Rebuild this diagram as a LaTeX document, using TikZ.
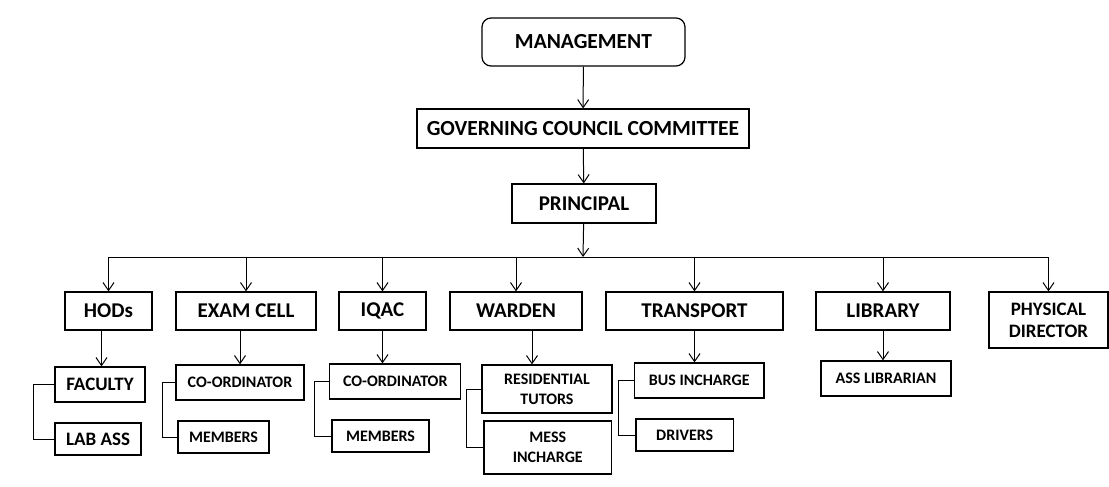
\documentclass[tikz,border=0pt]{standalone}
\usepackage{fontspec}
\setmainfont{Carlito}
\usetikzlibrary{arrows.meta, positioning, calc}

\tikzset{
  unit/.style={draw=black, line width=1.2pt, inner sep=2pt, align=center, font=\bfseries\fontsize{21}{23}\selectfont},
  subunit/.style={unit, font=\bfseries\fontsize{16}{20}\selectfont},
  arr/.style={line width=1pt, -{Straight Barb[length=8pt, width=11pt, line width=1pt]}},
  link/.style={line width=1pt}
}

\begin{document}
\begin{tikzpicture}[x=1pt, y=-1pt]
  \useasboundingbox (0,0) rectangle (1109,487);

  % top of the chart
  \node[unit, rounded corners=9pt, minimum width=203, minimum height=48, font=\bfseries\fontsize{21.5}{23}\selectfont] (mgmt) at (583.5,42) {MANAGEMENT};
  \node[unit, minimum width=332, minimum height=39, font=\bfseries\fontsize{21.5}{23}\selectfont] (gcc) at (583,128.5) {GOVERNING COUNCIL COMMITTEE};
  \node[unit, minimum width=144, minimum height=39] (prin) at (584,203.5) {PRINCIPAL};

  % departments
  \node[unit, minimum width=87, minimum height=38] (hods) at (108.5,311) {HODs};
  \node[unit, minimum width=140, minimum height=38] (exam) at (246,311) {EXAM CELL};
  \node[unit, minimum width=87, minimum height=38] (iqac) at (382.5,311) {IQAC};
  \node[unit, minimum width=132, minimum height=38] (warden) at (516,311) {WARDEN};
  \node[unit, minimum width=177, minimum height=38] (transport) at (694.5,311) {TRANSPORT};
  \node[unit, minimum width=134, minimum height=38] (library) at (883,311) {LIBRARY};
  \node[unit, minimum width=119, minimum height=56, font=\bfseries\fontsize{19}{22}\selectfont] (phys) at (1048.5,320) {PHYSICAL\\DIRECTOR};

  % staff under each department
  \node[unit, minimum width=90, minimum height=35, font=\bfseries\fontsize{19}{22}\selectfont] (faculty) at (100,384.5) {FACULTY};
  \node[unit, minimum width=86, minimum height=32, font=\bfseries\fontsize{19}{22}\selectfont] (labass) at (98,439) {LAB ASS};
  \node[subunit, minimum width=128, minimum height=35] (examcoord) at (240,382.5) {CO-ORDINATOR};
  \node[subunit, minimum width=91, minimum height=32] (exammem) at (223.5,437) {MEMBERS};
  \node[subunit, minimum width=131, minimum height=35] (iqaccoord) at (395.3,381.5) {CO-ORDINATOR};
  \node[subunit, minimum width=97, minimum height=32] (iqacmem) at (380.5,436) {MEMBERS};
  \node[subunit, minimum width=130, minimum height=48] (tutors) at (547,389) {RESIDENTIAL\\TUTORS};
  \node[subunit, minimum width=127.5, minimum height=53] (mess) at (547.75,447.5) {MESS\\INCHARGE};
  \node[subunit, minimum width=129.5, minimum height=35] (bus) at (699.25,380.5) {BUS INCHARGE};
  \node[subunit, minimum width=97.5, minimum height=32] (drivers) at (684.75,435) {DRIVERS};
  \node[subunit, minimum width=130, minimum height=35] (asslib) at (886,378.5) {ASS LIBRARIAN};

  % main line of command
  \coordinate (bar) at (583,257);
  \draw[arr] (mgmt) -- (gcc);
  \draw[arr] (gcc) -- (prin);
  \draw[arr] (prin) -- (bar);
  \draw[link] (hods.north |- bar) -- (phys.north |- bar);
  \foreach \d in {hods, exam, iqac, warden, transport, library, phys}
    \draw[arr] (\d.north |- bar) -- (\d.north);

  % department to first staff box
  \draw[arr] ([xshift=-7pt]hods.south) -- ([xshift=-7pt]hods.south |- faculty.north);
  \draw[arr] (exam.south -| examcoord.north) -- (examcoord.north);
  \draw[arr] (iqac.south) -- (iqac.south |- iqaccoord.north);
  \draw[arr] ([xshift=16pt]warden.south) -- ([xshift=16pt]warden.south |- tutors.north);
  \draw[arr] (transport.south) -- (transport.south |- bus.north);
  \draw[arr] (library.south) -- (library.south |- asslib.north);

  % side brackets
  \draw[link] (faculty.west) -- ++(-21,0) |- (labass.west);
  \draw[link] (examcoord.west) -- ++(-13,0) |- (exammem.west);
  \draw[link] (iqaccoord.west) -- ++(-15,0) |- (iqacmem.west);
  \draw[link] (tutors.west) -- ++(-15,0) |- (mess.west);
  \draw[link] (bus.west) -- ++(-15.5,0) |- (drivers.west);
\end{tikzpicture}
\end{document}
